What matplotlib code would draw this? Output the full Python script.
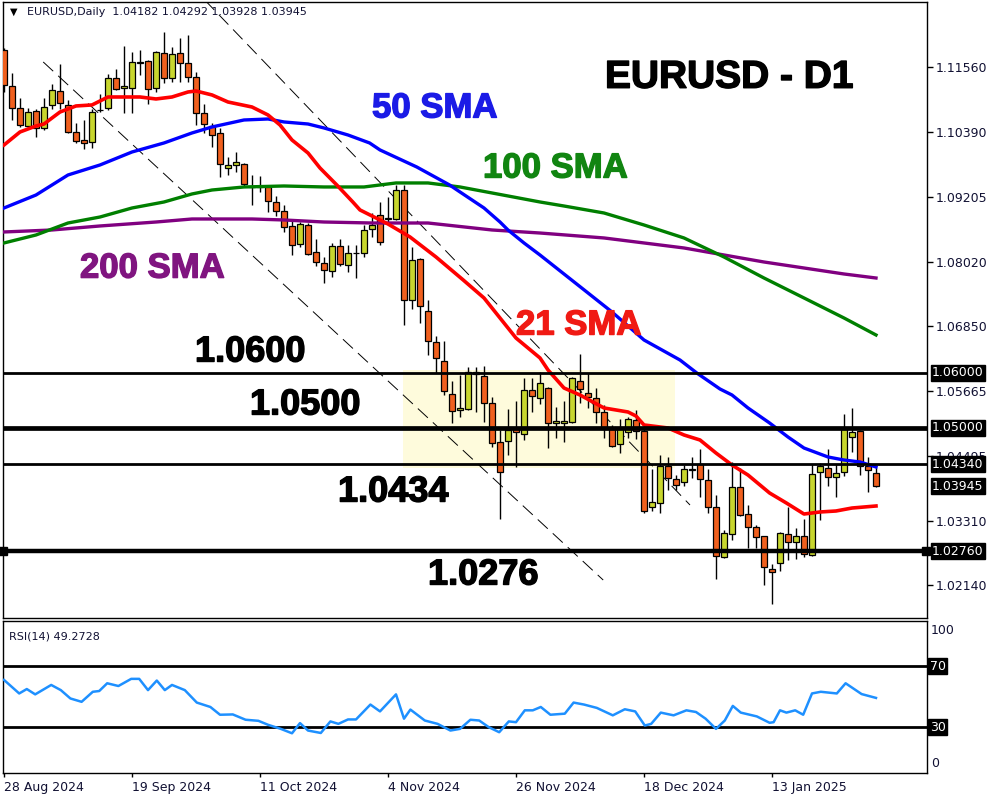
import matplotlib
matplotlib.use("Agg")
import matplotlib.pyplot as plt
import matplotlib.transforms as mtransforms
import matplotlib.patheffects as pe
from matplotlib.patches import Rectangle
import numpy as np

# daily candles, 28 Aug 2024 onward
opens = [1.11873, 1.11218, 1.10818, 1.10491, 1.10764, 1.10455, 1.10873, 1.11127, 1.10873, 1.10382,
         1.10236, 1.10200, 1.10782, 1.10818, 1.11364, 1.11182, 1.11182, 1.11655, 1.11673, 1.11182,
         1.11818, 1.11364, 1.11818, 1.11636, 1.11382, 1.10727, 1.10491, 1.10364, 1.09727, 1.09782,
         1.09800, 1.09400, 1.09382, 1.09382, 1.09109, 1.08945, 1.08673, 1.08345, 1.08691, 1.08200,
         1.08000, 1.07855, 1.08309, 1.07964, 1.08182, 1.08182, 1.08618, 1.08873, 1.08818, 1.08800,
         1.09327, 1.07327, 1.08073, 1.07127, 1.06564, 1.06218, 1.05618, 1.05327, 1.05345, 1.06018,
         1.05945, 1.05455, 1.04745, 1.04764, 1.04982, 1.04891, 1.05691, 1.05545, 1.05727, 1.05091,
         1.05091, 1.05109, 1.05855, 1.05636, 1.05545, 1.05291, 1.04982, 1.04709, 1.04927, 1.05145,
         1.04945, 1.03564, 1.03636, 1.04309, 1.04073, 1.04018, 1.04255, 1.04345, 1.04055, 1.03564,
         1.02655, 1.03073, 1.03927, 1.03436, 1.03200, 1.03036, 1.02436, 1.02545, 1.03073, 1.02927,
         1.03036, 1.02691, 1.04200, 1.04273, 1.04109, 1.04200, 1.04836, 1.04945, 1.04309, 1.04182]
highs = [1.11909, 1.11455, 1.11000, 1.10818, 1.10800, 1.11000, 1.11255, 1.11618, 1.10964, 1.10545,
         1.10600, 1.10800, 1.11073, 1.11436, 1.11527, 1.11945, 1.11836, 1.11873, 1.11691, 1.11855,
         1.12200, 1.11927, 1.12091, 1.12145, 1.11473, 1.10891, 1.10545, 1.10455, 1.09927, 1.10018,
         1.09818, 1.09600, 1.09582, 1.09418, 1.09218, 1.09055, 1.08782, 1.08745, 1.08727, 1.08436,
         1.08109, 1.08364, 1.08436, 1.08327, 1.08327, 1.08691, 1.08909, 1.09109, 1.09200, 1.09418,
         1.09418, 1.08291, 1.08091, 1.07327, 1.06673, 1.06582, 1.05855, 1.05964, 1.06109, 1.06109,
         1.06127, 1.05564, 1.04964, 1.05345, 1.05491, 1.05909, 1.05909, 1.06018, 1.05745, 1.05382,
         1.05491, 1.05927, 1.06345, 1.06000, 1.05727, 1.05418, 1.05055, 1.05164, 1.05200, 1.05327,
         1.05055, 1.04255, 1.04509, 1.04473, 1.04145, 1.04327, 1.04473, 1.04618, 1.04255, 1.03782,
         1.03145, 1.04382, 1.04273, 1.03600, 1.03236, 1.03036, 1.02527, 1.03109, 1.03564, 1.03182,
         1.03345, 1.04345, 1.04364, 1.04618, 1.04345, 1.05255, 1.05364, 1.04964, 1.04473, 1.04292]
lows = [1.11109, 1.10600, 1.10473, 1.10455, 1.10291, 1.10418, 1.10800, 1.10800, 1.10364, 1.10182,
        1.10073, 1.10091, 1.10745, 1.10782, 1.11145, 1.10727, 1.10727, 1.11418, 1.10891, 1.11109,
        1.11273, 1.11291, 1.11291, 1.11291, 1.10509, 1.10364, 1.10109, 1.09564, 1.09600, 1.09655,
        1.09382, 1.09055, 1.09291, 1.08927, 1.08855, 1.08564, 1.08145, 1.08291, 1.08145, 1.07945,
        1.07636, 1.07745, 1.07945, 1.07836, 1.07727, 1.08109, 1.08473, 1.08327, 1.08745, 1.08782,
        1.06873, 1.07164, 1.06909, 1.06327, 1.06000, 1.05600, 1.05091, 1.05200, 1.05327, 1.05291,
        1.05109, 1.04655, 1.03345, 1.04509, 1.04291, 1.04782, 1.05291, 1.05436, 1.04636, 1.04818,
        1.04745, 1.05091, 1.05455, 1.05364, 1.05091, 1.04818, 1.04655, 1.04545, 1.04818, 1.04800,
        1.03455, 1.03491, 1.03455, 1.03873, 1.03873, 1.03945, 1.04091, 1.03745, 1.03455, 1.02255,
        1.02636, 1.02964, 1.03400, 1.02818, 1.02818, 1.02145, 1.01800, 1.02400, 1.02600, 1.02618,
        1.02655, 1.02673, 1.03327, 1.03945, 1.03745, 1.04127, 1.04564, 1.04145, 1.03836, 1.03928]
closes = [1.11236, 1.10818, 1.10509, 1.10745, 1.10455, 1.10836, 1.11145, 1.10909, 1.10382, 1.10218,
          1.10182, 1.10745, 1.10773, 1.11364, 1.11164, 1.11218, 1.11655, 1.11645, 1.11164, 1.11836,
          1.11364, 1.11800, 1.11636, 1.11382, 1.10727, 1.10527, 1.10327, 1.09800, 1.09782, 1.09836,
          1.09436, 1.09382, 1.09373, 1.09127, 1.08945, 1.08655, 1.08327, 1.08709, 1.08164, 1.08018,
          1.07873, 1.08309, 1.07982, 1.08182, 1.08173, 1.08600, 1.08691, 1.08382, 1.08800, 1.09327,
          1.07327, 1.08055, 1.07218, 1.06582, 1.06273, 1.05673, 1.05309, 1.05364, 1.06018, 1.05982,
          1.05455, 1.04727, 1.04200, 1.04964, 1.04927, 1.05691, 1.05582, 1.05818, 1.05091, 1.05127,
          1.05127, 1.05909, 1.05709, 1.05564, 1.05291, 1.04982, 1.04673, 1.05000, 1.05164, 1.04945,
          1.03491, 1.03655, 1.04309, 1.04091, 1.03964, 1.04255, 1.04245, 1.04073, 1.03564, 1.02673,
          1.03091, 1.03927, 1.03418, 1.03200, 1.03018, 1.02473, 1.02382, 1.03091, 1.02927, 1.03036,
          1.02709, 1.04164, 1.04309, 1.04109, 1.04182, 1.04982, 1.04927, 1.04309, 1.04236, 1.03945]

# moving averages, sampled along the drawn lines (bar index, price)
sma21_x = [0, 2, 4, 5, 7, 9, 11, 13, 15, 17, 19, 21, 23, 24, 26, 28, 31, 33, 34.5, 36,
           38, 39.5, 41.6, 43.6, 44.5, 48, 50.75, 54, 57.4, 60, 62, 64, 67, 68, 70, 72, 75, 78, 79, 80,
           83, 85, 87, 89, 91, 93, 95.7, 97.8, 100, 102, 104, 106, 109]
sma21_v = [1.10145, 1.10382, 1.10491, 1.10527, 1.10745, 1.10855, 1.10873, 1.11018, 1.11018, 1.11018,
           1.10982, 1.11018, 1.11109, 1.11127, 1.11055, 1.10927, 1.10836, 1.10691, 1.10509, 1.10236,
           1.10000, 1.09727, 1.09418, 1.09109, 1.08964, 1.08709, 1.08473, 1.08109, 1.07691, 1.07364,
           1.07000, 1.06636, 1.06273, 1.06055, 1.05727, 1.05600, 1.05364, 1.05291, 1.05218, 1.05055,
           1.05000, 1.04873, 1.04782, 1.04545, 1.04327, 1.04145, 1.03818, 1.03636, 1.03436, 1.03473,
           1.03491, 1.03545, 1.03582]
sma50_x = [0, 4, 8, 12, 16, 20, 23.5, 26, 30, 33, 35, 38, 40, 43, 45.7, 47, 51.6, 55.7, 57, 60,
           62, 63, 65, 67, 70, 73, 76, 78, 80, 84.5, 86.6, 89.5, 91, 93, 95.7, 98, 100, 103, 105, 107, 109]
sma50_v = [1.09000, 1.09236, 1.09600, 1.09782, 1.10018, 1.10182, 1.10364, 1.10473, 1.10600, 1.10618,
           1.10564, 1.10527, 1.10455, 1.10327, 1.10182, 1.10055, 1.09745, 1.09418, 1.09291, 1.09000,
           1.08745, 1.08600, 1.08364, 1.08145, 1.07800, 1.07455, 1.07109, 1.06855, 1.06600, 1.06236,
           1.06000, 1.05709, 1.05600, 1.05364, 1.05091, 1.04836, 1.04636, 1.04473, 1.04418, 1.04382,
           1.04291]
sma100_x = [0, 4, 8, 12, 16, 20, 23.5, 26, 30, 35, 40, 45, 49, 53, 57, 61, 67, 70, 75, 80,
            85, 90, 95, 100, 105, 109]
sma100_v = [1.08364, 1.08509, 1.08727, 1.08836, 1.09000, 1.09109, 1.09255, 1.09327, 1.09382, 1.09400,
            1.09382, 1.09382, 1.09455, 1.09455, 1.09382, 1.09273, 1.09109, 1.09036, 1.08909, 1.08691,
            1.08455, 1.08109, 1.07727, 1.07364, 1.07000, 1.06691]
sma200_x = [0, 6, 12, 19, 23.5, 31, 35, 40, 46, 53, 61, 67, 75, 85, 95, 105, 109]
sma200_v = [1.08564, 1.08600, 1.08673, 1.08745, 1.08800, 1.08800, 1.08782, 1.08745, 1.08727, 1.08727,
            1.08600, 1.08545, 1.08455, 1.08273, 1.08018, 1.07800, 1.07727]

# RSI(14) line, sampled (bar index, value)
rsi_x = [0, 1.9, 2.85, 3.9, 5.9, 7.1, 8.3, 9.7, 11.1, 11.9, 12.9, 14.3, 15.9, 16.9, 18.0, 19.1,
         20.1, 21.0, 22.6, 24.1, 25.8, 27.0, 28.6, 30.2, 31.8, 33.0, 34.6, 36.0, 37.0, 38.0, 39.6,
         40.8, 41.8, 43.0, 44.0, 45.8, 47.0, 49.0, 50.0, 50.8, 52.6, 54.2, 55.8, 57.0, 58.3, 59.4,
         60.6, 61.9, 63.1, 64.0, 65.1, 66.1, 67.1, 68.3, 70.1, 71.2, 72.5, 74.1, 76.1, 77.6, 78.9,
         80.1, 80.9, 82.1, 83.7, 85.3, 86.5, 87.7, 89.0, 90.1, 91.1, 92.1, 94.1, 95.7, 96.2, 97.0,
         97.8, 98.9, 99.9, 101.0, 102.1, 104.1, 105.2, 107.2, 109.0]
rsi_v = [61.1, 52.2, 55.1, 51.6, 57.8, 54.4, 48.9, 46.7, 53.3, 53.8, 58.9, 57.1, 61.8, 61.8, 54.4, 60.7,
         54.4, 57.8, 54.4, 46.2, 43.3, 38.2, 38.4, 34.9, 34.2, 31.6, 28.9, 26.0, 32.7, 27.8, 26.2,
         33.8, 32.2, 35.1, 35.1, 44.9, 40.4, 51.6, 35.6, 41.6, 34.4, 32.2, 27.8, 28.9, 34.9, 34.4,
         30.0, 26.7, 33.8, 33.3, 41.1, 41.1, 43.3, 38.2, 38.9, 46.2, 44.9, 42.7, 37.8, 41.8, 40.4,
         31.1, 32.2, 39.6, 37.8, 41.1, 40.0, 35.6, 28.9, 34.4, 44.0, 39.6, 37.1, 32.9, 33.3, 41.1,
         39.6, 41.1, 38.2, 52.2, 53.3, 52.2, 58.9, 51.8, 49.27]

levels = [1.0600, 1.0500, 1.0434, 1.0276]
level_widths = [2.0, 3.4, 2.0, 3.2]
axis_prices = [1.11560, 1.10390, 1.09205, 1.08020, 1.06850, 1.05665, 1.04495, 1.03310, 1.02140]
boxed_prices = [1.06000, 1.05000, 1.04340, 1.03945, 1.02760]
date_bars = [0, 16, 32, 48, 64, 80, 96]
date_labels = ["28 Aug 2024", "19 Sep 2024", "11 Oct 2024", "4 Nov 2024",
               "26 Nov 2024", "18 Dec 2024", "13 Jan 2025"]
# trendlines: (bar, price) endpoints
trend_upper = ([25.1, 85.75], [1.1278, 1.0360])
trend_lower = ([4.9, 74.9], [1.11655, 1.02236])
zone_bars = (49.9, 83.9)
zone_prices = (1.04273, 1.06055)

BULL = "#c8d62e"
BEAR = "#f0601e"
AXIS_TXT = "#111133"

fig = plt.figure(figsize=(10, 8), dpi=100)
ax = fig.add_axes([0.003, 0.2275, 0.924, 0.77])
ax_rsi = fig.add_axes([0.003, 0.034, 0.924, 0.19])

x = np.arange(len(opens))
o = np.array(opens)
c = np.array(closes)
h = np.array(highs)
l = np.array(lows)
up = c >= o

ax.add_patch(Rectangle((zone_bars[0], zone_prices[0]), zone_bars[1] - zone_bars[0],
                       zone_prices[1] - zone_prices[0], facecolor="#fefbdc", edgecolor="none", zorder=0))

ax.plot(trend_upper[0], trend_upper[1], color="black", lw=0.7, ls=(0, (14, 7)), zorder=1)
ax.plot(trend_lower[0], trend_lower[1], color="black", lw=0.7, ls=(0, (14, 7)), zorder=1)

ax.vlines(x, l, h, color="black", lw=1.0, zorder=3)
ax.bar(x, np.abs(c - o), width=0.66, bottom=np.minimum(o, c),
       color=np.where(up, BULL, BEAR), edgecolor="black", linewidth=0.9, zorder=4)

ax.plot(sma200_x, sma200_v, color="#800080", lw=2.4, zorder=5)
ax.plot(sma100_x, sma100_v, color="#007f00", lw=2.4, zorder=5)
ax.plot(sma50_x, sma50_v, color="#0000ff", lw=2.4, zorder=5)
ax.plot(sma21_x, sma21_v, color="#ff0000", lw=2.6, zorder=6)

for lev, lw in zip(levels, level_widths):
    ax.axhline(lev, color="black", lw=lw, zorder=7)
ax.plot([-0.1, 115.2], [levels[3], levels[3]], ls="none", marker="s", ms=5.5,
        color="black", clip_on=False, zorder=8)

ax.set_xlim(-0.125, 115.375)
ax.set_ylim(1.015455, 1.12745)
ax.set_xticks([])
ax.yaxis.tick_right()
ax.set_yticks(axis_prices)
ax.set_yticklabels([f"{p:.5f}" for p in axis_prices])
ax.tick_params(axis="y", length=4, width=1, pad=2, labelsize=9, labelcolor=AXIS_TXT)
for s in ax.spines.values():
    s.set_linewidth(1.0)

trans = mtransforms.blended_transform_factory(ax.transAxes, ax.transData)
for p in boxed_prices:
    ax.text(1.0055, p, f"{p:.5f}", transform=trans, fontsize=9, color="white",
            va="center", ha="left", zorder=10, clip_on=False,
            bbox=dict(boxstyle="square,pad=0.12", facecolor="black", edgecolor="black"))


def big_label(xf, yf, txt, color, size):
    t = ax.text(xf, yf, txt, transform=ax.transAxes, fontsize=size, color=color,
                family="Liberation Sans", fontweight="bold", va="center", ha="left", zorder=9)
    t.set_path_effects([pe.withStroke(linewidth=1.0, foreground=color)])


big_label(0.6515, 0.877, "EURUSD - D1", "black", 28)
big_label(0.3994, 0.828, "50 SMA", "#1b1be6", 25)
big_label(0.5195, 0.7305, "100 SMA", "#118511", 25)
big_label(0.0833, 0.568, "200 SMA", "#801580", 25)
big_label(0.5552, 0.4756, "21 SMA", "#f01a14", 25)
big_label(0.2078, 0.4318, "1.0600", "black", 26)
big_label(0.2673, 0.3458, "1.0500", "black", 26)
big_label(0.3626, 0.2045, "1.0434", "black", 26)
big_label(0.4600, 0.0698, "1.0276", "black", 26)

ax.text(0.0075, 0.9835, "\u25BC", transform=ax.transAxes, fontsize=7, color="black",
        va="center", ha="left", family="DejaVu Sans")
ax.text(0.026, 0.9835, "EURUSD,Daily  1.04182 1.04292 1.03928 1.03945", transform=ax.transAxes,
        fontsize=8, color=AXIS_TXT, va="center", ha="left", family="DejaVu Sans")

# RSI panel
ax_rsi.plot(rsi_x, rsi_v, color="#1e90ff", lw=1.8, zorder=3)
ax_rsi.axhline(70, color="black", lw=2.0, zorder=2)
ax_rsi.axhline(30, color="black", lw=2.0, zorder=2)
ax_rsi.set_xlim(-0.125, 115.375)
ax_rsi.set_ylim(0, 100)
ax_rsi.set_yticks([])
ax_rsi.set_xticks(date_bars)
ax_rsi.set_xticklabels(date_labels, ha="left")
ax_rsi.tick_params(axis="x", length=3, width=1, pad=3, labelsize=9, labelcolor=AXIS_TXT)
for s in ax_rsi.spines.values():
    s.set_linewidth(1.0)

ax_rsi.text(1.004, 93.5, "100", transform=ax_rsi.get_yaxis_transform(), fontsize=9,
            color=AXIS_TXT, va="center", ha="left", clip_on=False)
ax_rsi.text(1.004, 6, "0", transform=ax_rsi.get_yaxis_transform(), fontsize=9,
            color=AXIS_TXT, va="center", ha="left", clip_on=False)
for v in (70, 30):
    ax_rsi.text(1.003, v, str(v), transform=ax_rsi.get_yaxis_transform(), fontsize=9,
                color="white", va="center", ha="left", clip_on=False,
                bbox=dict(boxstyle="square,pad=0.12", facecolor="black", edgecolor="black"))
ax_rsi.text(0.006, 0.93, "RSI(14) 49.2728", transform=ax_rsi.transAxes, fontsize=8,
            color=AXIS_TXT, va="top", ha="left", family="DejaVu Sans")

fig.savefig("out.png", dpi=100)
